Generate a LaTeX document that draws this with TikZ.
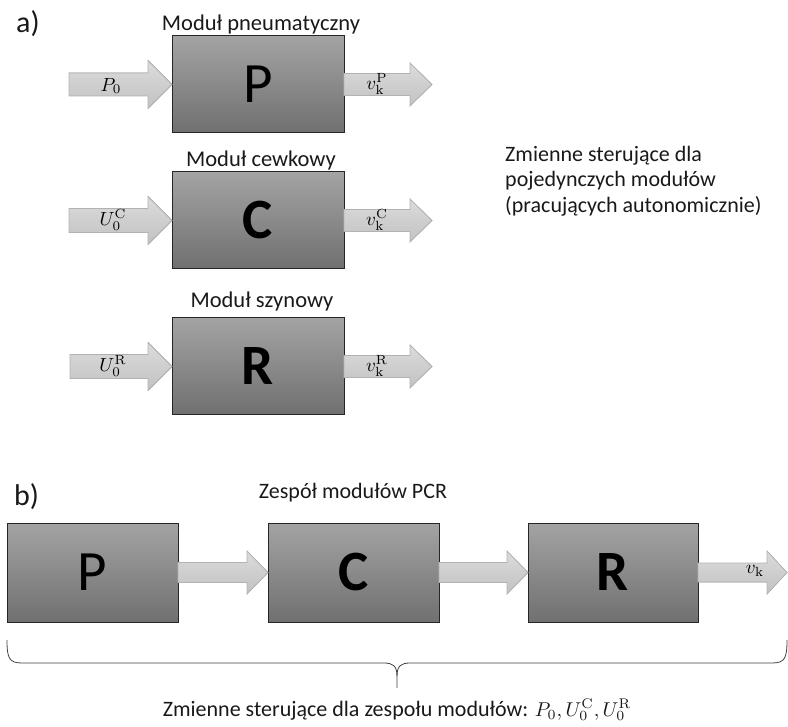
\documentclass[tikz,border=0pt]{standalone}
\usepackage{graphicx}
\usepackage[no-math]{fontspec}
\setmainfont{Carlito}
\usetikzlibrary{shadings}

% block arrow drawn from a tail point to a tip point (horizontal)
% #1 tail, #2 tip, #3 shaft half height, #4 head half height, #5 head length
\newcommand{\blockarrow}[5]{%
  \filldraw[blockarr]
    ([yshift=#3]#1) -- ([xshift=-#5,yshift=#3]#2) -- ([xshift=-#5,yshift=#4]#2)
    -- (#2) -- ([xshift=-#5,yshift=-#4]#2) -- ([xshift=-#5,yshift=-#3]#2)
    -- ([yshift=-#3]#1) -- cycle;}
% math set at 10pt and enlarged
\newcommand{\bigmath}[2][1.9]{\scalebox{#1}{\fontsize{10}{12}\selectfont$#2$}}

\tikzset{
  module/.style={draw=black!85, line width=1pt, top color=black!36, bottom color=black!56,
    minimum width=172pt, minimum height=97pt, inner sep=0pt, outer sep=0pt,
    font=\fontsize{57}{60}\selectfont},
  blockarr/.style={draw=black!30, line width=0.8pt, top color=black!14, bottom color=black!24},
  title/.style={anchor=base, font=\fontsize{22.5}{26}\selectfont, text=black!90, inner sep=0pt},
  tag/.style={anchor=base west, font=\fontsize{30}{32}\selectfont, text=black!90, inner sep=0pt},
  sig/.style={inner sep=0pt},
}

\begin{document}
\begin{tikzpicture}[x=1pt, y=-1pt]
\useasboundingbox (0,0) rectangle (788,727);

% ---------------- a) single modules ----------------
\node[tag] (ta) at (16,33) {a)};

\node[module] (P) at (258,84.5) {P};
\node[module] (C) at (258,220.5) {\bfseries C};
\node[module] (R) at (258,366.5) {\bfseries R};

\node[title] (tP) at (261,31) {Moduł pneumatyczny};
\node[title] (tC) at (261,167) {Moduł cewkowy};
\node[title] (tR) at (262,308) {Moduł szynowy};

\coordinate (inP) at (69,84.5);   \coordinate (outP) at (432,84.5);
\coordinate (inC) at (69,220.5);  \coordinate (outC) at (432,220.5);
\coordinate (inR) at (70,366.5);  \coordinate (outR) at (432,366.5);

\blockarrow{inP}{P.west}{11.5pt}{24pt}{24pt}
\blockarrow{inC}{C.west}{12pt}{24pt}{24pt}
\blockarrow{inR}{R.west}{12pt}{24pt}{24pt}
\blockarrow{P.east}{outP}{11pt}{21.5pt}{22pt}
\blockarrow{C.east}{outC}{11pt}{21.5pt}{22pt}
\blockarrow{R.east}{outR}{11pt}{21.5pt}{22pt}

\node[sig] (sP0) at (111,86) {\bigmath{P_0}};
\node[sig] (sUC) at (113,220) {\bigmath{U_0^{\mathrm{C}}}};
\node[sig] (sUR) at (113,366) {\bigmath{U_0^{\mathrm{R}}}};
\node[sig] (vP) at (377,84) {\bigmath{v_{\mathrm{k}}^{\mathrm{P}}}};
\node[sig] (vC) at (377,220) {\bigmath{v_{\mathrm{k}}^{\mathrm{C}}}};
\node[sig] (vR) at (377,366) {\bigmath{v_{\mathrm{k}}^{\mathrm{R}}}};

\node[anchor=north west, align=left, inner sep=0pt, text=black!90,
      font=\fontsize{22}{25.5}\selectfont] (side) at (505,146)
  {Zmienne sterujące dla\\pojedynczych modułów\\(pracujących autonomicznie)};

% ---------------- b) module chain ----------------
\node[tag] (tb) at (14,505) {b)};
\node[title, font=\fontsize{22}{26}\selectfont] (tPCR) at (353,498) {Zespół modułów PCR};

\node[module, minimum width=171pt, minimum height=99pt] (P2) at (92.5,572.5) {P};
\node[module, minimum width=171pt, minimum height=99pt] (C2) at (353.5,572.5) {\bfseries C};
\node[module, minimum width=170pt, minimum height=99pt] (R2) at (613,572.5) {\bfseries R};

\coordinate (out2) at (787,572.5);
\blockarrow{P2.east}{C2.west}{10pt}{21.5pt}{21pt}
\blockarrow{C2.east}{R2.west}{10pt}{21.5pt}{21pt}
\blockarrow{R2.east}{out2}{9.5pt}{21.5pt}{20pt}
\node[sig] (vk) at (755,571) {\bigmath{v_{\mathrm{k}}}};

% brace under the chain
\draw[black!75, line width=0.8pt]
  (7,640) .. controls (7,658) and (9,663) .. (22,663) -- (384,663)
  .. controls (393,663) and (397,666) .. (397,676) -- (397,688);
\draw[black!75, line width=0.8pt]
  (787,640) .. controls (787,658) and (785,663) .. (772,663) -- (410,663)
  .. controls (401,663) and (397,666) .. (397,676);

\node[title, font=\fontsize{22}{26}\selectfont] (bottom) at (397,716)
  {Zmienne sterujące dla zespołu modułów: \bigmath[2]{P_0, U_0^{\mathrm{C}}, U_0^{\mathrm{R}}}};
\end{tikzpicture}
\end{document}
